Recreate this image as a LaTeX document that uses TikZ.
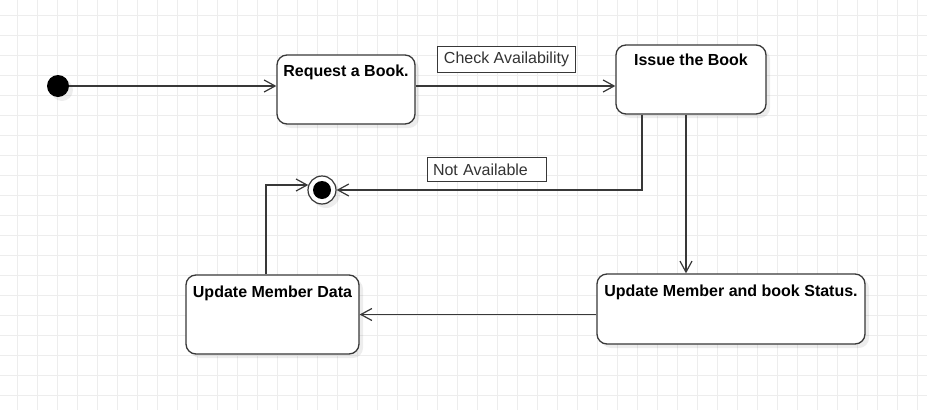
\documentclass[tikz,border=0pt]{standalone}
\usepackage{fontspec}
\setmainfont{Liberation Sans}
\usepackage{tikz}
\usetikzlibrary{calc,positioning,arrows.meta,shadows}

\definecolor{gridgray}{HTML}{EDEDED}
\definecolor{linegray}{HTML}{383838}
\definecolor{textgray}{HTML}{333333}

\tikzset{
	shade box/.style={drop shadow={fill=black,opacity=0.07,shadow xshift=4pt,shadow yshift=-4pt}},
	state/.style={draw=linegray, line width=1.3pt, fill=white, rounded corners=10pt, shade box},
	flow/.style={draw=linegray, line width=1.2pt, -{Straight Barb[length=11pt,width=12pt,line width=1.2pt]}},
	guard/.style={draw=linegray, line width=1pt, fill=white, inner sep=6pt, text=textgray, font=\fontsize{16}{19}\selectfont}
}

\begin{document}
\begin{tikzpicture}[x=1pt,y=-1pt]
			\useasboundingbox (0,0) rectangle (927,410);
			\fill[white] (0,0) rectangle (927,410);
			\foreach \gx in {17,37,...,927} \draw[gridgray, line width=1pt] (\gx,0) -- (\gx,410);
			\foreach \gy in {15,35,...,410} \draw[gridgray, line width=1pt] (0,\gy) -- (927,\gy);

			\node[circle, fill=black, minimum size=22pt, inner sep=0pt, shade box] (start) at (58,86) {};
			\node[circle, draw=linegray, line width=1.2pt, fill=white, minimum size=28pt, inner sep=0pt, shade box,
				path picture={\fill[black] (path picture bounding box.center) circle (9pt);}] (final) at (322,190) {};

			\node[state, minimum width=138pt, minimum height=69pt,
				label={[anchor=north,inner sep=0pt,yshift=-10pt,font=\bfseries\fontsize{16}{19}\selectfont]north:Request a Book.}] (request) at (346,89.5) {};
			\node[state, minimum width=150pt, minimum height=69pt,
				label={[anchor=north,inner sep=0pt,yshift=-9pt,font=\bfseries\fontsize{16}{19}\selectfont]north:Issue the Book}] (issue) at (691,79.5) {};
			\node[state, minimum width=268pt, minimum height=70pt,
				label={[anchor=north,inner sep=0pt,yshift=-11pt,font=\bfseries\fontsize{16}{19}\selectfont]north:Update Member and book Status.}] (status) at (731,309) {};
			\node[state, minimum width=173pt, minimum height=79pt,
				label={[anchor=north,inner sep=0pt,yshift=-11pt,font=\bfseries\fontsize{16}{19}\selectfont]north:Update Member Data}] (memdata) at (272.5,314.5) {};

			\node[guard] (check) at (506.5,59.5) {Check Availability};
			\node[guard, text width=107pt, align=left] (notavail) at (486.5,169.5) {Not Available};

			\draw[flow] (start) -- (request.west |- start);
			\draw[flow] (request.east |- start) -- (issue.west |- start);
			\draw[flow] ([xshift=-49pt]issue.south) |- (final.east);
			\draw[flow] ([xshift=-5pt]issue.south) -- ([xshift=-5pt]issue.south |- status.north);
			\draw[flow] (status.west |- memdata) -- (memdata.east);
			\draw[flow] ([xshift=-6.5pt]memdata.north) |- (final.160);
		\end{tikzpicture}
\end{document}
